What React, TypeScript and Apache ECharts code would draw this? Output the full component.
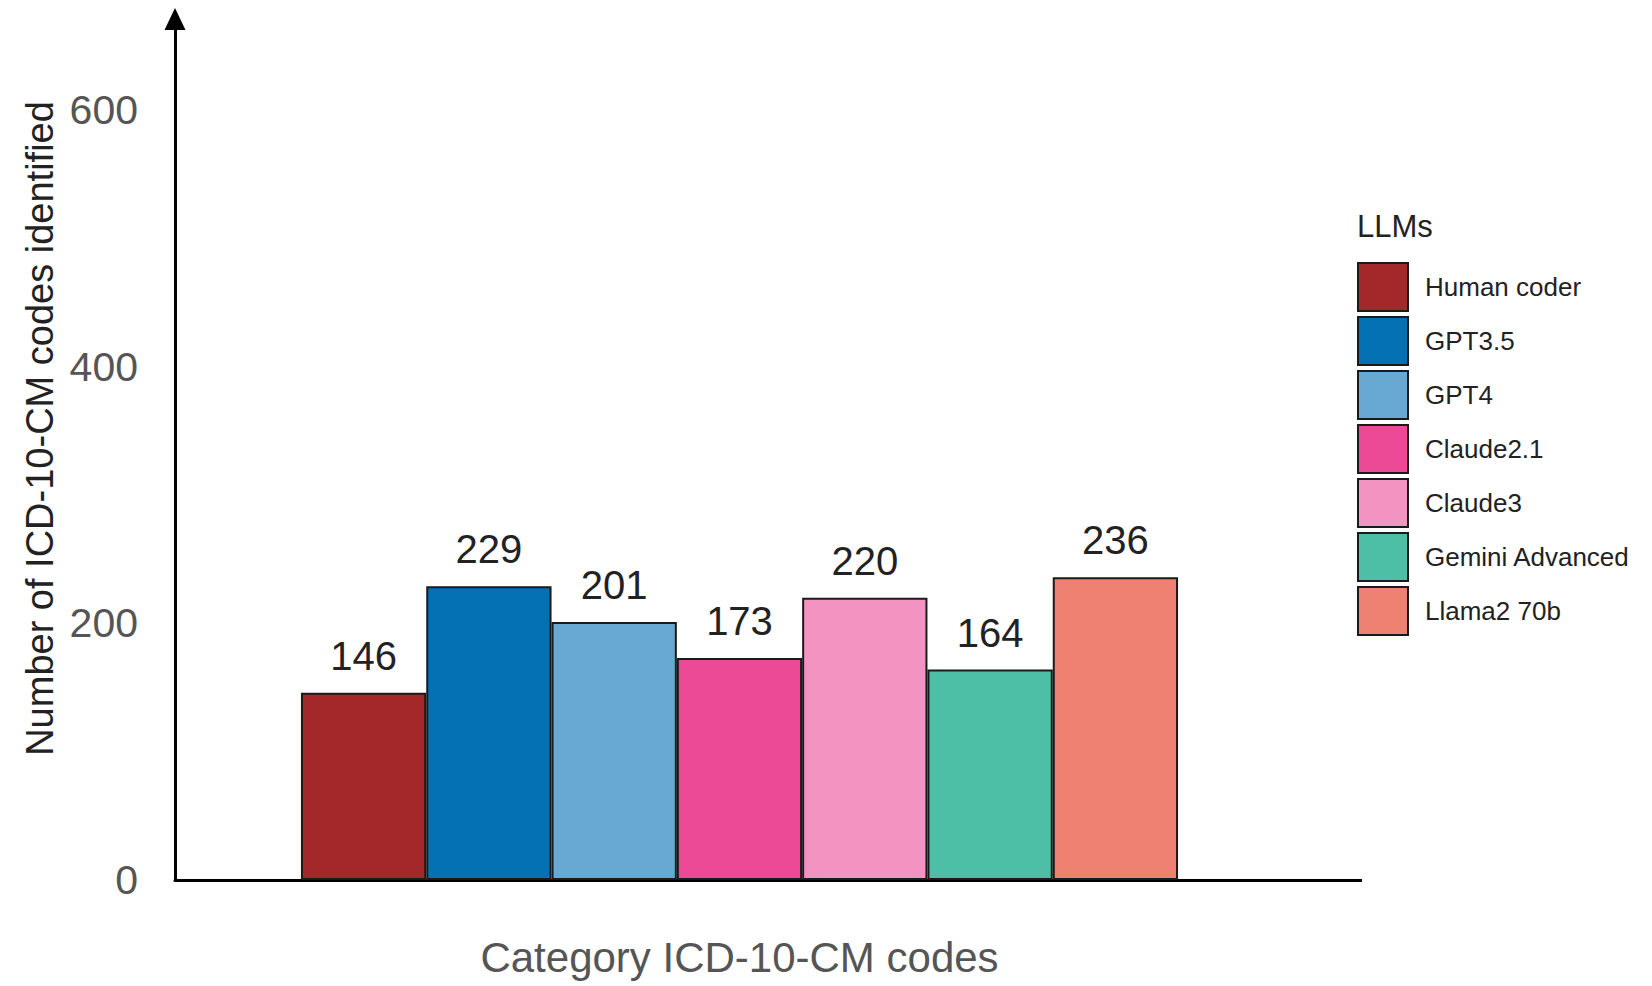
import React, { useEffect, useRef } from "react";
import * as echarts from "echarts";

const models = ["Human coder", "GPT3.5", "GPT4", "Claude2.1", "Claude3", "Gemini Advanced", "Llama2 70b"];
const counts = [146, 229, 201, 173, 220, 164, 236];
const colors = ["#a4282a", "#0571b5", "#67a9d3", "#ec4a96", "#f393c1", "#4cbfa6", "#ee8171"];
const category = ["Category ICD-10-CM codes"];
const yTicks = [0, 200, 400, 600];

const FONT = "'Liberation Sans', Arial, Helvetica, sans-serif";

export default function App() {
  const ref = useRef<HTMLDivElement>(null);
  useEffect(() => {
    if (!ref.current) return;
    const chart = echarts.init(ref.current, null, { renderer: "svg" });
    const series = models.map((name, i) => ({
      name,
      type: "bar",
      data: [counts[i]],
      barWidth: 125.3,
      barGap: "0%",
      itemStyle: { color: colors[i], borderColor: "#1a1a1a", borderWidth: 2 },
      label: {
        show: true,
        position: "top",
        distance: 17,
        fontSize: 40,
        fontFamily: FONT,
        color: "#222",
      },
    }));
    chart.setOption({
      animation: false,
      textStyle: { fontFamily: FONT },
      title: {
        text: "LLMs",
        left: 1352,
        top: 206,
        textStyle: { fontSize: 31, fontWeight: "normal", color: "#222", fontFamily: FONT },
      },
      legend: {
        orient: "vertical",
        left: 1352,
        top: 257,
        itemWidth: 50,
        itemHeight: 48,
        itemGap: 4,
        icon: "rect",
        data: models,
        itemStyle: { borderColor: "#1a1a1a", borderWidth: 2 },
        textStyle: { fontSize: 26, color: "#222", fontFamily: FONT, padding: [0, 0, 0, 12] },
        selectedMode: false,
      },
      grid: { left: 175, top: 19, width: 1129, bottom: 106, containLabel: false },
      xAxis: {
        type: "category",
        data: category,
        axisLine: { show: true, lineStyle: { color: "#000", width: 3 } },
        axisTick: { show: false },
        axisLabel: { show: false },
        name: category[0],
        nameLocation: "middle",
        nameGap: 56,
        nameTextStyle: { fontSize: 42, color: "#555", fontFamily: FONT },
      },
      yAxis: {
        type: "value",
        min: yTicks[0],
        max: 671,
        interval: yTicks[1] - yTicks[0],
        axisLine: {
          show: true,
          symbol: ["none", "triangle"],
          symbolSize: [21, 22],
          lineStyle: { color: "#000", width: 3 },
        },
        axisTick: { show: false },
        splitLine: { show: false },
        axisLabel: {
          showMaxLabel: false,
          fontSize: 41,
          color: "#555",
          margin: 37,
          fontFamily: FONT,
        },
        name: "Number of ICD-10-CM codes identified",
        nameLocation: "middle",
        nameRotate: 90,
        nameGap: 112,
        nameTextStyle: { fontSize: 38, color: "#222", fontFamily: FONT, padding: [0, 0, 0, 42] },
      },
      graphic: [
        {
          type: "line",
          shape: { x1: 1250, y1: 880.5, x2: 1362, y2: 880.5 },
          style: { stroke: "#000", lineWidth: 3 },
        },
      ],
      series,
    });
    return () => chart.dispose();
  }, []);
  return (
    <div
      ref={ref}
      style={{ position: "absolute", left: 0, top: 0, width: 1652, height: 986, background: "#fff" }}
    />
  );
}
